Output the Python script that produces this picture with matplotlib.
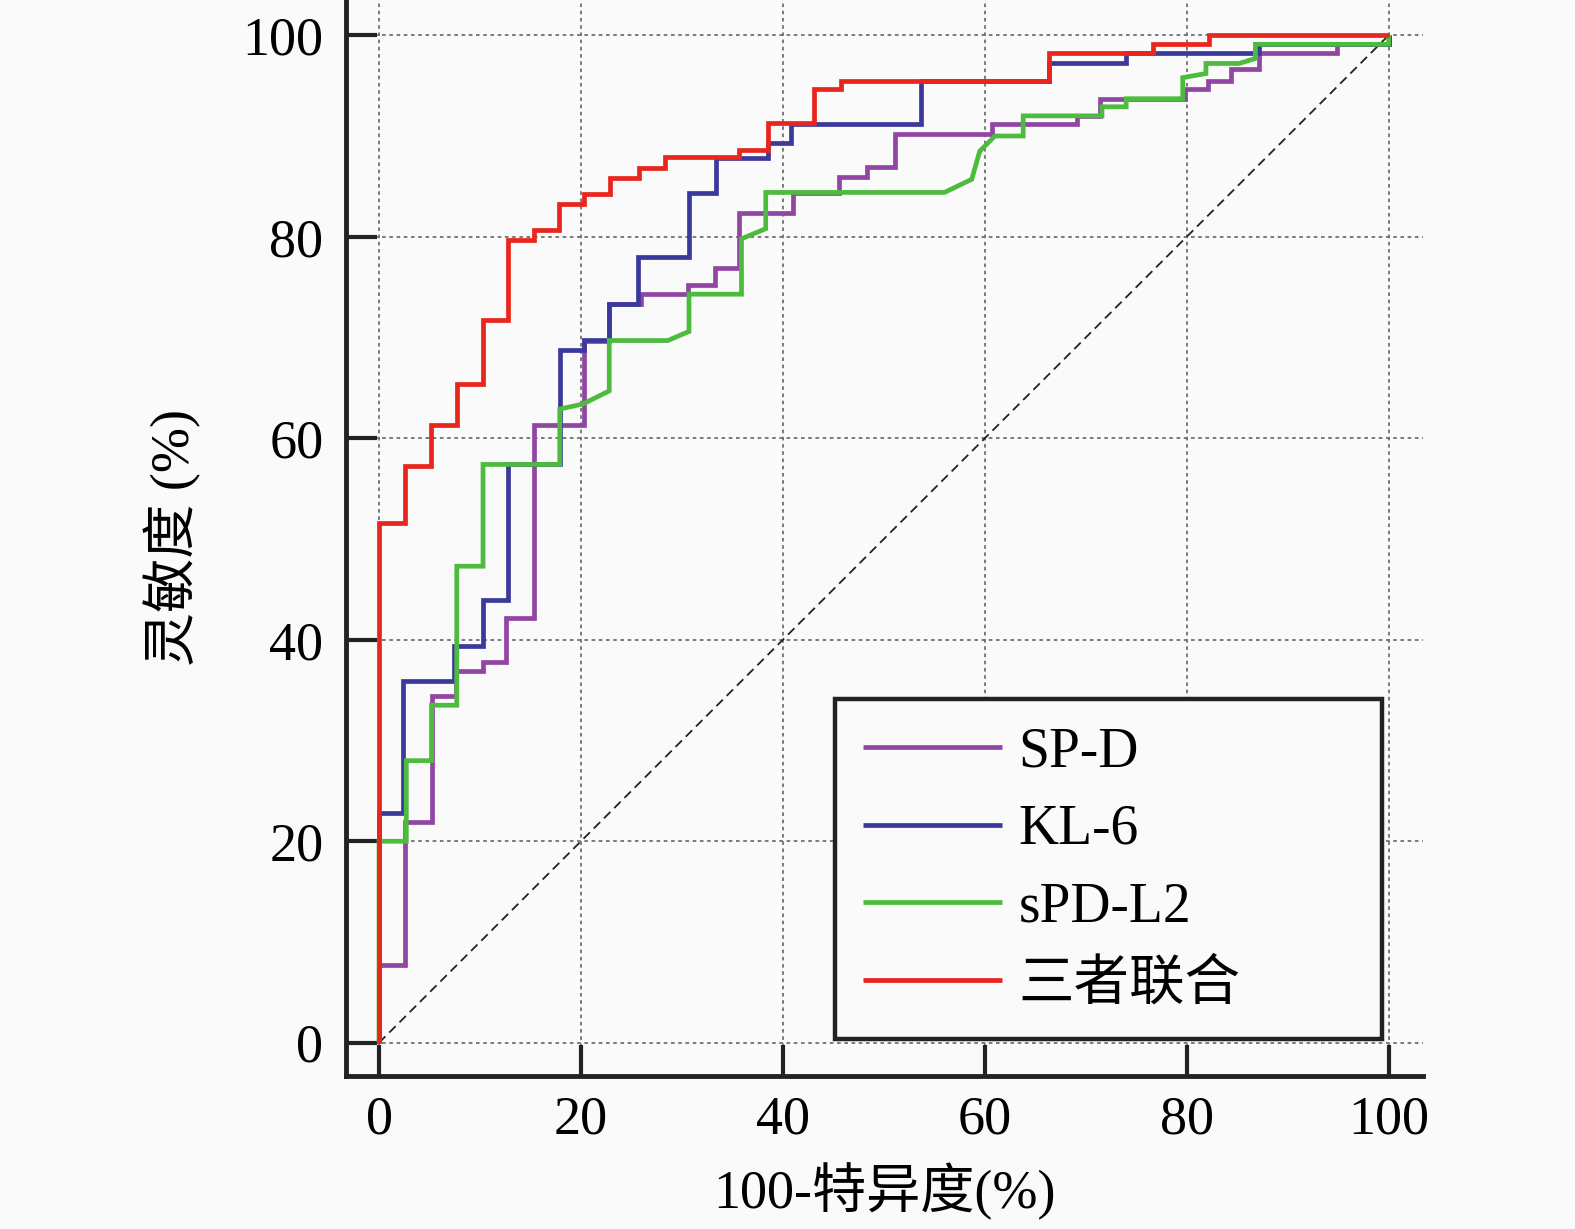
import matplotlib
matplotlib.use("Agg")
import matplotlib.pyplot as plt

# ---------------- data (vertices of the ROC step curves) ----------------
spd_x = [0, 0, 2.6, 2.6, 5.2, 5.2, 7.6, 7.6, 10.3, 10.3, 12.6, 12.6, 15.3, 15.3, 20.3, 20.3,
         22.8, 22.8, 25.9, 25.9, 30.6, 30.6, 33.3, 33.3, 35.7, 35.7, 41.0, 41.0, 45.6, 45.6,
         48.3, 48.3, 51.1, 51.1, 60.7, 60.7, 69.1, 69.1, 71.4, 71.4, 79.8, 79.8, 82.1, 82.1,
         84.4, 84.4, 87.2, 87.2, 94.9, 94.9, 100, 100]
spd_y = [0, 7.7, 7.7, 21.9, 21.9, 34.4, 34.4, 36.9, 36.9, 37.8, 37.8, 42.2, 42.2, 61.3, 61.3, 69.7,
         69.7, 73.3, 73.3, 74.3, 74.3, 75.2, 75.2, 76.9, 76.9, 82.4, 82.4, 84.3, 84.3, 85.9,
         85.9, 86.9, 86.9, 90.2, 90.2, 91.2, 91.2, 92.0, 92.0, 93.7, 93.7, 94.7, 94.7, 95.5,
         95.5, 96.7, 96.7, 98.2, 98.2, 99.1, 99.1, 100]

kl6_x = [0, 0, 2.4, 2.4, 7.4, 7.4, 10.3, 10.3, 12.8, 12.8, 17.9, 17.9, 20.3, 20.3, 22.8, 22.8,
         25.6, 25.6, 30.7, 30.7, 33.4, 33.4, 38.5, 38.5, 40.8, 40.8, 53.7, 53.7, 66.4, 66.4,
         74.0, 74.0, 87.2, 87.2, 100, 100]
kl6_y = [0, 22.8, 22.8, 35.9, 35.9, 39.4, 39.4, 43.9, 43.9, 57.4, 57.4, 68.8, 68.8, 69.8, 69.8, 73.3,
         73.3, 78.0, 78.0, 84.3, 84.3, 87.8, 87.8, 89.3, 89.3, 91.2, 91.2, 95.5, 95.5, 97.2,
         97.2, 98.2, 98.2, 99.1, 99.1, 100]

spdl2_x = [0, 0, 2.7, 2.7, 5.2, 5.2, 7.7, 7.7, 10.3, 10.3, 17.9, 17.9, 20.2, 22.8, 22.8, 28.6,
           30.7, 30.7, 35.9, 35.9, 38.3, 38.3, 56.0, 58.7, 59.5, 61.0, 63.8, 63.8, 71.6, 71.6,
           74.0, 74.0, 79.6, 79.6, 81.9, 81.9, 85.2, 86.8, 86.8, 100, 100]
spdl2_y = [0, 20.0, 20.0, 28.0, 28.0, 33.5, 33.5, 47.3, 47.3, 57.4, 57.4, 62.9, 63.4, 64.7, 69.7, 69.7,
           70.6, 74.3, 74.3, 79.8, 80.8, 84.4, 84.4, 85.7, 88.5, 90.0, 90.0, 92.0, 92.0, 92.9,
           92.9, 93.7, 93.7, 95.8, 96.2, 97.2, 97.2, 97.7, 99.1, 99.1, 100]

comb_x = [0, 0, 2.6, 2.6, 5.1, 5.1, 7.7, 7.7, 10.3, 10.3, 12.8, 12.8, 15.3, 15.3, 17.8, 17.8,
          20.3, 20.3, 22.9, 22.9, 25.7, 25.7, 28.3, 28.3, 35.7, 35.7, 38.5, 38.5, 43.1, 43.1,
          45.8, 45.8, 66.4, 66.4, 76.7, 76.7, 82.2, 82.2, 100]
comb_y = [0, 51.6, 51.6, 57.2, 57.2, 61.3, 61.3, 65.4, 65.4, 71.7, 71.7, 79.7, 79.7, 80.7, 80.7, 83.3,
          83.3, 84.2, 84.2, 85.8, 85.8, 86.8, 86.8, 87.9, 87.9, 88.6, 88.6, 91.3, 91.3, 94.7,
          94.7, 95.5, 95.5, 98.2, 98.2, 99.1, 99.1, 100, 100]

series_names = ["SP-D", "KL-6", "sPD-L2", "三者联合"]
series_colors = ["#9146a3", "#3b3a9c", "#4dbb3e", "#e8261e"]

ticks = [0, 20, 40, 60, 80, 100]
tick_labels = ["0", "20", "40", "60", "80", "100"]
xlabel = "100-特异度(%)"
ylabel = "灵敏度 (%)"

# ---------------- figure ----------------
FONT = ["Liberation Serif", "Noto Sans CJK SC", "DejaVu Sans"]
plt.rcParams["font.family"] = FONT
bg = "#fafafa"

fig = plt.figure(figsize=(15.75, 12.29), dpi=100, facecolor=bg)
ax = fig.add_axes([0.2195, 0.1245, 0.6840, 0.8755], facecolor=bg)

ax.set_xlim(-3.3, 103.4)
ax.set_ylim(-3.3, 103.5)

ax.set_xticks(ticks)
ax.set_yticks(ticks)
ax.set_xticklabels(tick_labels)
ax.set_yticklabels(tick_labels)
ax.tick_params(direction="in", length=22, width=3, labelsize=39, color="#222222", pad=16)
ax.tick_params(axis="x", pad=14)

for s in ["top", "right"]:
    ax.spines[s].set_visible(False)
for s in ["left", "bottom"]:
    ax.spines[s].set_linewidth(3.5)
    ax.spines[s].set_color("#222222")

ax.grid(True, color="#707070", linestyle=(0, (2, 2)), linewidth=1.3)
ax.set_axisbelow(True)

ax.plot([0, 100], [0, 100], color="#222222", linestyle=(0, (5, 3)), linewidth=1.3, zorder=2)

data = [(spd_x, spd_y), (kl6_x, kl6_y), (spdl2_x, spdl2_y), (comb_x, comb_y)]
for (xs, ys), name, col in zip(data, series_names, series_colors):
    ax.plot(xs, ys, color=col, linewidth=3.4, label=name, zorder=3,
            solid_joinstyle="miter", solid_capstyle="butt")

ax.set_xlabel(xlabel, fontsize=39, labelpad=12)
ax.set_ylabel(ylabel, fontsize=39, labelpad=30)

leg = ax.legend(loc="lower left", bbox_to_anchor=(0.4545, 0.0345, 0.5074, 0.318), mode="expand",
                fontsize=40, frameon=True, fancybox=False, framealpha=1, facecolor=bg,
                edgecolor="#222222", handlelength=2.5, handletextpad=0.3, borderpad=0.5,
                labelspacing=0.46, borderaxespad=0)
leg.get_frame().set_linewidth(3.2)

fig.savefig("out.png", dpi=100, facecolor=bg)
